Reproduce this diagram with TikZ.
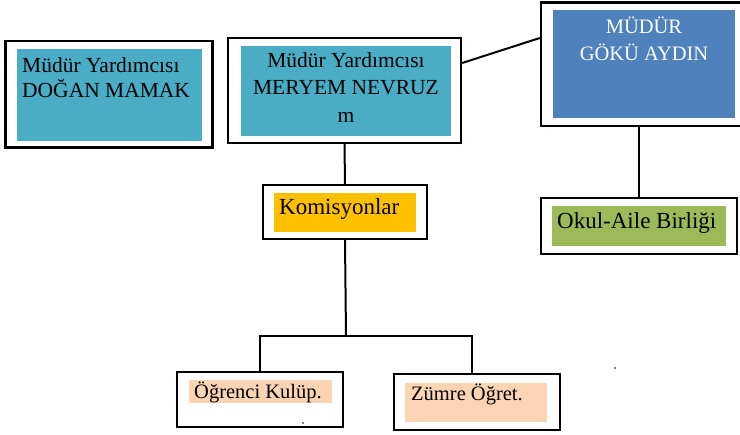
\documentclass[tikz,border=0pt]{standalone}
\usepackage{fontspec}
\setmainfont{Liberation Serif}
\usetikzlibrary{calc}
\definecolor{yrdteal}{RGB}{75,172,198}
\definecolor{mdrblue}{RGB}{79,129,189}
\definecolor{komsari}{RGB}{255,192,0}
\definecolor{okulyesil}{RGB}{155,187,89}
\definecolor{kulten}{RGB}{251,212,180}

\begin{document}
\begin{tikzpicture}[x=1pt,y=-1pt,
	kutu/.style 2 args={draw, line width=2.4pt, inner sep=0pt, minimum width=#1, minimum height=#2},
	bag/.style={line width=2pt},
	yazi/.style={inner sep=0pt, font=\fontsize{21.5}{25}\selectfont}]
	\useasboundingbox (0,0) rectangle (740,435);
	\clip (0,0) rectangle (740,435);
	
	\fill[yrdteal] (17,49) rectangle (202,141);
	\fill[yrdteal] (241,46) rectangle (451,136);
	\fill[mdrblue] (553,10) rectangle (735,118);
	\fill[komsari] (274,193) rectangle (416,232);
	\fill[okulyesil] (552,206) rectangle (726,246);
	\fill[kulten] (189,380) rectangle (332,403);
	\fill[kulten] (405,383) rectangle (547,422);
	
	\node[kutu={207pt}{106.5pt}] (dogan) at (109,94.25) {};
	\node[kutu={233pt}{105pt}] (meryem) at (344.5,90.5) {};
	\node[kutu={206pt}{123.5pt}] (mudur) at (644,64.25) {};
	\node[kutu={164pt}{54pt}] (komisyon) at (345,212) {};
	\node[kutu={196pt}{56pt}] (okul) at (639,226) {};
	\node[kutu={166pt}{55pt}] (ogrenci) at (260,399.5) {};
	\node[kutu={166pt}{56pt}] (zumre) at (477,402) {};
	
	\node[yazi][anchor=north west, align=left] (doganT) at (22,57.3) {Müdür Yardımcısı\\DOĞAN MAMAK};
	\node[yazi][anchor=north, align=center, font=\fontsize{21.5}{27.5}\selectfont] (meryemT) at (346,52.3) {Müdür Yardımcısı\\MERYEM NEVRUZ\\m};
	\node[yazi][anchor=north, align=center, text=white, font=\fontsize{20.5}{27}\selectfont] (mudurT) at (644,16.5) {MÜDÜR\\GÖKÜ AYDIN};
	\node[yazi][anchor=base west, font=\fontsize{23}{27}\selectfont] (komisyonT) at (279,215) {Komisyonlar};
	\node[yazi][anchor=base west, font=\fontsize{23}{27}\selectfont] (okulT) at (557,229) {Okul-Aile Birliği};
	\node[yazi][anchor=base west, font=\fontsize{20.5}{24}\selectfont] (ogrenciT) at (194,399) {Öğrenci Kulüp.};
	\node[yazi][anchor=base west, font=\fontsize{20.5}{24}\selectfont] (zumreT) at (411,401) {Zümre Öğret.};
	
	\draw[bag] ([yshift=27.5pt]meryem.east) -- ([yshift=26.25pt]mudur.west);
	\draw[bag] (meryem.south) -- (komisyon.north);
	\draw[bag] (okul.north |- mudur.south) -- (okul.north);
	\coordinate (dal) at (346,336);
	\draw[bag] (komisyon.south) -- (dal);
	\draw[bag] (ogrenci.north) |- (dal) -| ([xshift=-5pt]zumre.north);
	
	\fill (303,423) circle (0.8pt);
	\fill (615,368) circle (0.8pt);
\end{tikzpicture}
\end{document}
